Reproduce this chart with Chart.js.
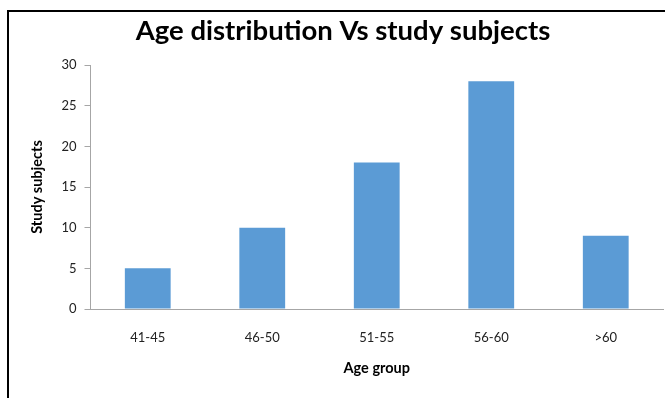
<!DOCTYPE html>
<html>
<head>
<meta charset="utf-8">
<script src="https://cdn.jsdelivr.net/npm/chart.js@4"></script>
<style>
  html, body { margin: 0; padding: 0; background: #fff; }
  #wrap { position: relative; width: 665px; height: 398px; overflow: hidden; }
  #frame {
    position: absolute; left: 7px; top: 10px; right: -10px; bottom: -10px;
    border-top: 2px solid #000; border-left: 2px solid #000;
    pointer-events: none;
  }
  canvas { position: absolute; left: 0; top: 0; }
</style>
</head>
<body>
<div id="wrap">
  <canvas id="chart" width="665" height="398"></canvas>
  <div id="frame"></div>
</div>
<script>
// Number of study subjects in each age group
const ageGroups = ['41-45', '46-50', '51-55', '56-60', '>60'];
const subjectCounts = [5, 10, 18, 28, 9];
const yTicks = [0, 5, 10, 15, 20, 25, 30];
const chartTitle = 'Age distribution Vs study subjects';

const FONT = 'Lato, "Open Sans", sans-serif';
const AXIS_GRAY = '#a6a6a6';

// Heading centred over the framed panel rather than the whole canvas
const headingPlugin = {
  id: 'heading',
  afterDraw(chart) {
    const ctx = chart.ctx;
    ctx.save();
    ctx.font = 'bold 27.5px ' + FONT;
    ctx.fillStyle = '#000';
    ctx.textAlign = 'center';
    ctx.textBaseline = 'middle';
    ctx.fillText(chartTitle, 343, 31);
    ctx.restore();
  }
};

new Chart(document.getElementById('chart'), {
  type: 'bar',
  data: {
    labels: ageGroups,
    datasets: [{
      data: subjectCounts,
      backgroundColor: '#5b9bd5',
      borderWidth: 0,
      barPercentage: 0.4,
      categoryPercentage: 1.0
    }]
  },
  plugins: [headingPlugin],
  options: {
    responsive: false,
    animation: false,
    devicePixelRatio: 1,
    layout: { padding: { left: 0, right: 2, top: 65, bottom: 0 } },
    plugins: {
      legend: { display: false },
      tooltip: { enabled: false },
      title: { display: false }
    },
    scales: {
      x: {
        grid: { display: false },
        border: { display: true, color: AXIS_GRAY, width: 1 },
        ticks: {
          color: '#222',
          font: { family: FONT, size: 13 },
          padding: 13,
          maxRotation: 0
        },
        title: {
          display: true,
          text: 'Age group',
          color: '#000',
          font: { family: FONT, size: 14.5, weight: 'bold', lineHeight: 1.2 },
          padding: { top: 0, bottom: 21 }
        },
        afterFit: (s) => { s.height = 89; }
      },
      y: {
        min: 0,
        max: 30,
        afterBuildTicks: (s) => { s.ticks = yTicks.map(v => ({ value: v })); },
        grid: {
          display: true,
          drawOnChartArea: false,
          drawTicks: true,
          tickLength: 6,
          color: AXIS_GRAY
        },
        border: { display: true, color: AXIS_GRAY, width: 1 },
        ticks: {
          color: '#222',
          font: { family: FONT, size: 13 },
          padding: 8
        },
        title: {
          display: true,
          text: 'Study subjects',
          color: '#000',
          font: { family: FONT, size: 14.5, weight: 'bold', lineHeight: 1.2 },
          padding: { top: 29, bottom: 0 }
        },
        afterFit: (s) => { s.width = 90.5; }
      }
    }
  }
});
</script>
</body>
</html>
